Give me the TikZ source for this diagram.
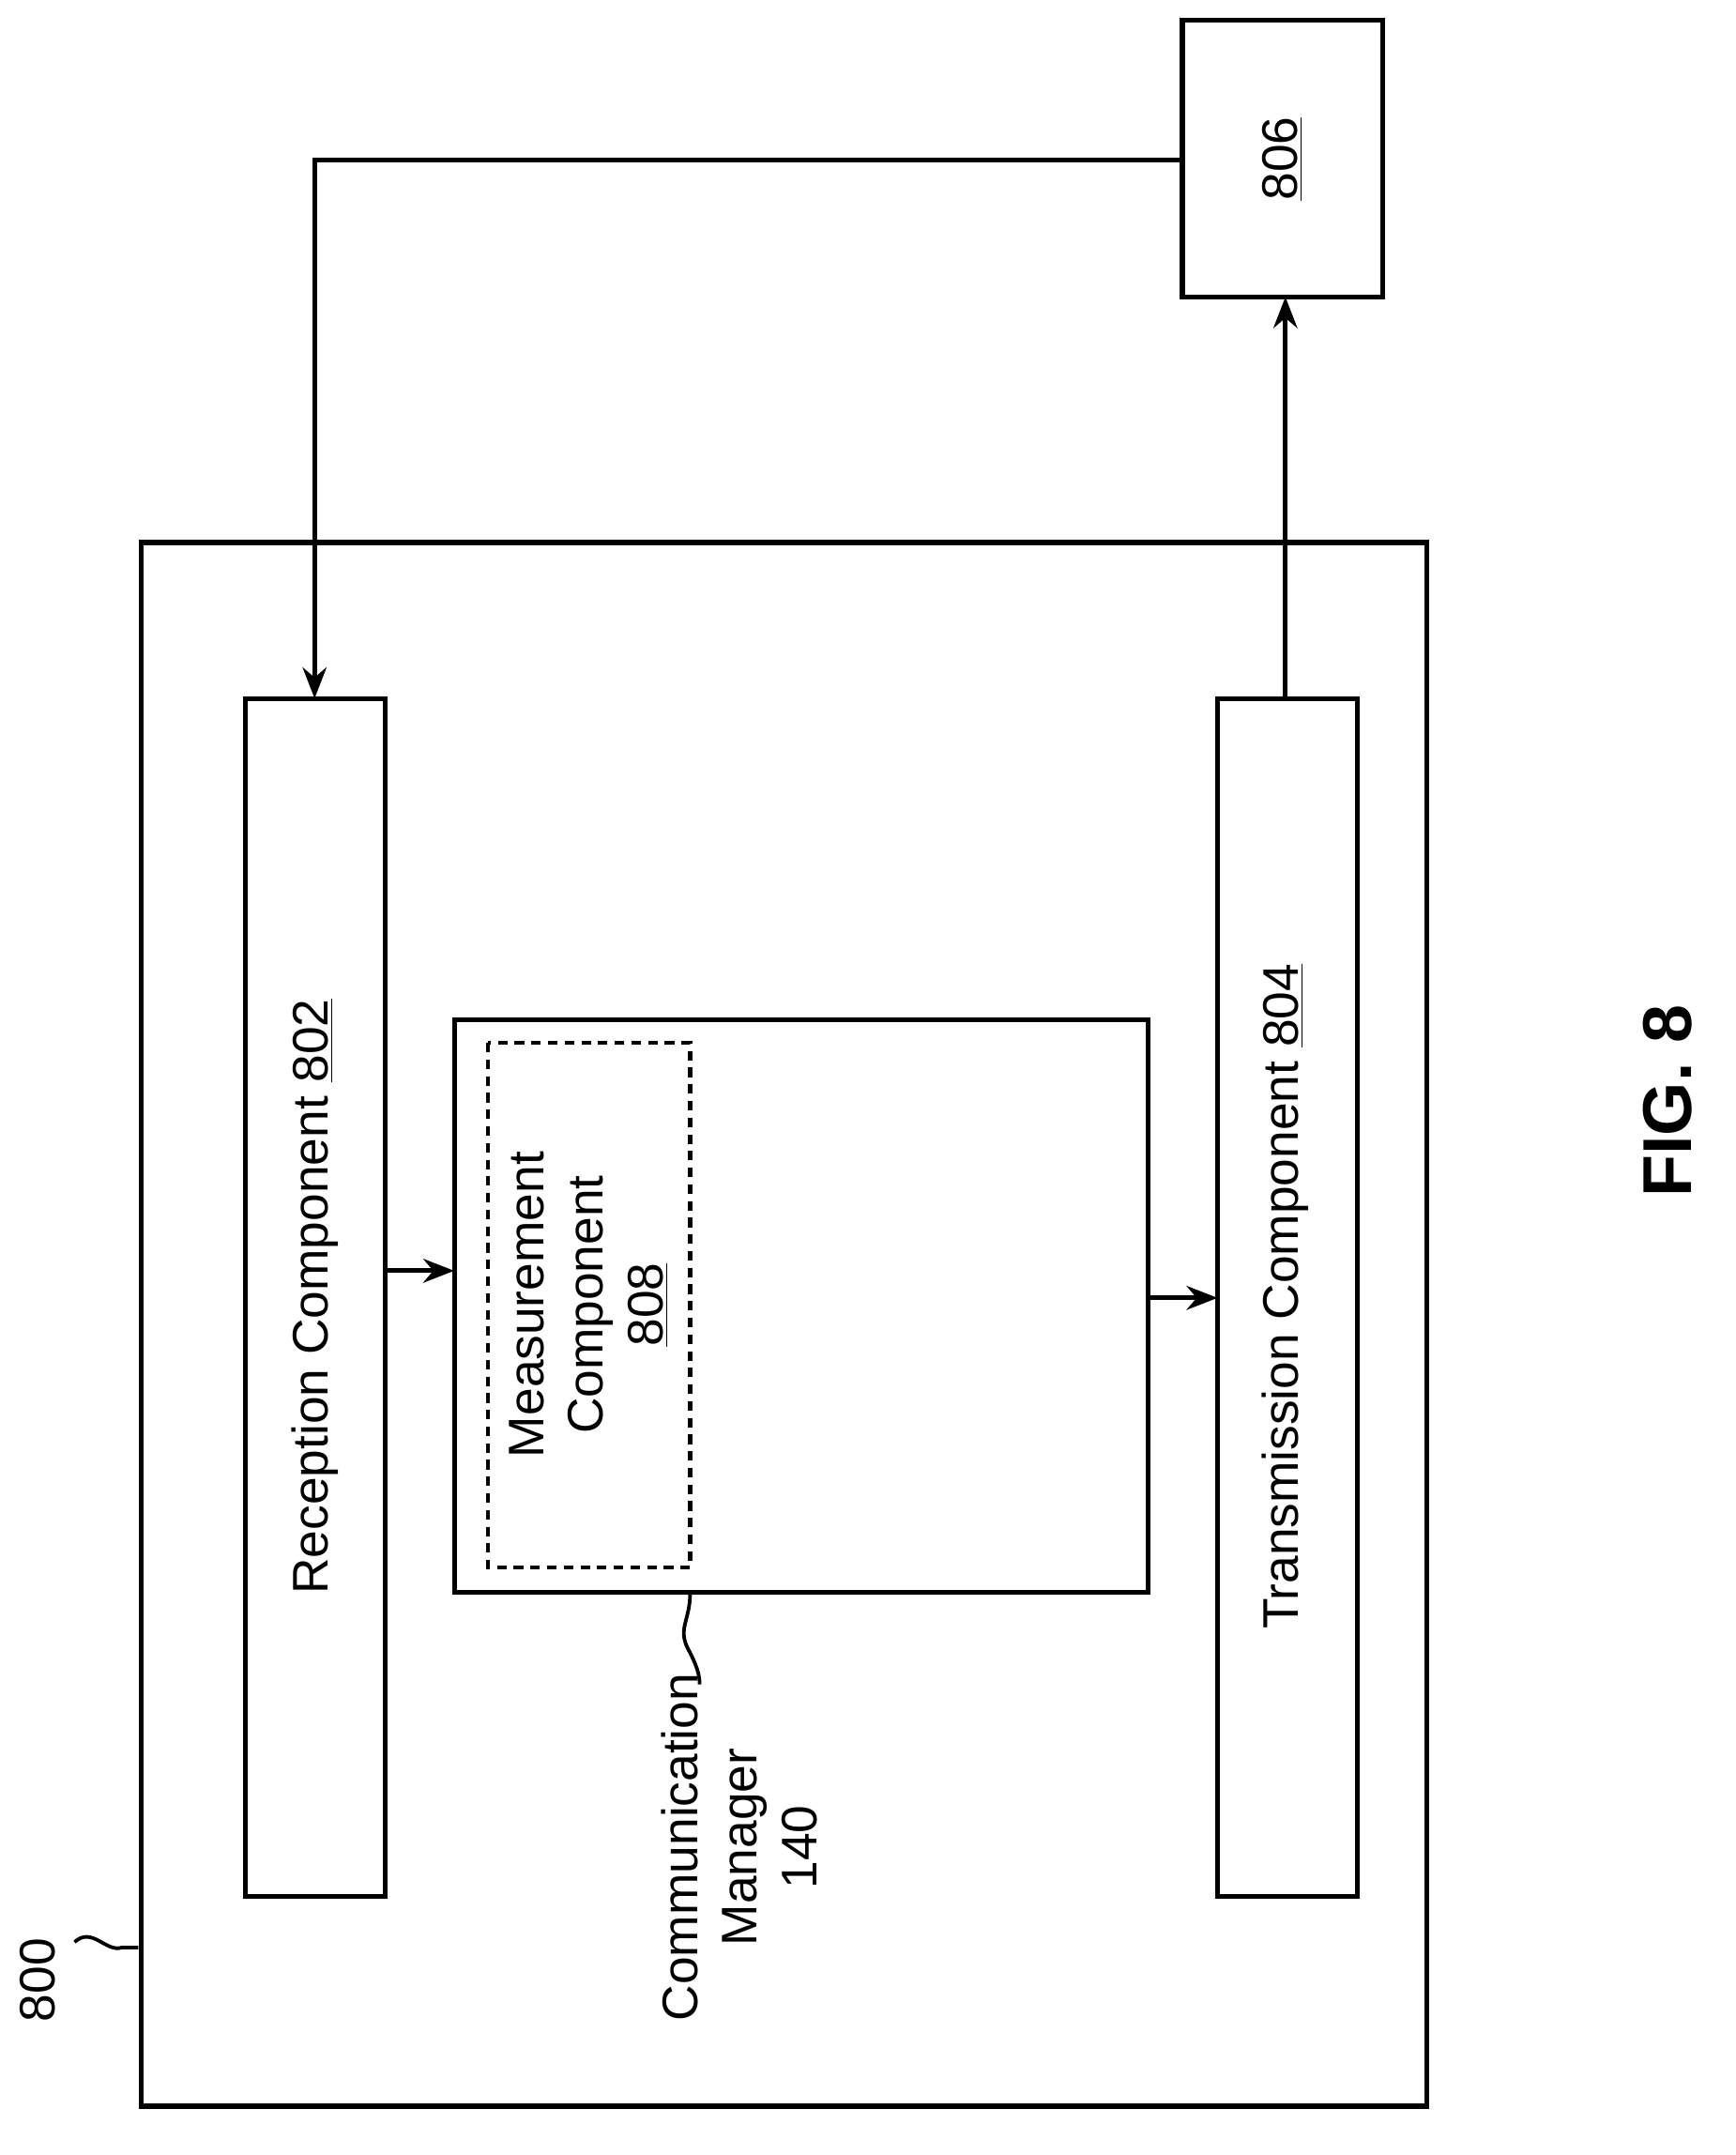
\documentclass[tikz,border=0pt]{standalone}
\usepackage{fontspec}
\setmainfont{Liberation Sans}
\usetikzlibrary{arrows.meta}
\begin{document}
\begin{tikzpicture}[x=0.02cm,y=-0.02cm,
  box/.style={draw,line width=2pt},
  lbl/.style={rotate=90,font=\fontsize{21}{25}\selectfont,align=center},
  arr/.style={line width=2pt,-{Stealth[length=13pt,width=10pt]}}]
\useasboundingbox (0,0) rectangle (1280,1589);
\draw[box] (104,400) rectangle (1052,1553);
\node[lbl] (n800) at (28,1460) {800};
\draw[line width=1.5pt] (55,1432) .. controls (68,1420) and (78,1440) .. (90,1436) -- (102,1436);
\draw[box] (181,515) rectangle (284,1398);
\node[lbl] (rec) at (232,956) {Reception Component \underline{802}};
\coordinate (rtop) at (232,515);
\draw[box] (898,515) rectangle (1001,1398);
\node[lbl] (tra) at (948,956) {Transmission Component \underline{804}};
\coordinate (ttop) at (948,515);
\draw[box] (335,752) rectangle (847,1174);
\draw[line width=1.6pt,dash pattern=on 4pt off 3pt] (360,769) rectangle (509,1156);
\node[lbl] (meas) at (434,962) {Measurement\\Component\\\underline{808}};
\draw[box] (872,15) rectangle (1020,219);
\node[lbl] (n806) at (946,117) {\underline{806}};
\draw[arr] (872,118) -- (232,118) -- (rtop);
\draw[arr] (ttop) -- (948,219);
\draw[arr] (284,937) -- (335,937);
\draw[arr] (847,957) -- (898,957);
\draw[line width=1.5pt] (509,1174) .. controls (509,1195) and (500,1200) .. (507,1215) .. controls (514,1228) and (516,1235) .. (516,1242);
\node[lbl] (cm) at (545,1362) {Communication\\Manager\\140};
\node[rotate=90,font=\bfseries\fontsize{29}{33}\selectfont] (fig) at (1230,812) {FIG. 8};
\end{tikzpicture}
\end{document}
